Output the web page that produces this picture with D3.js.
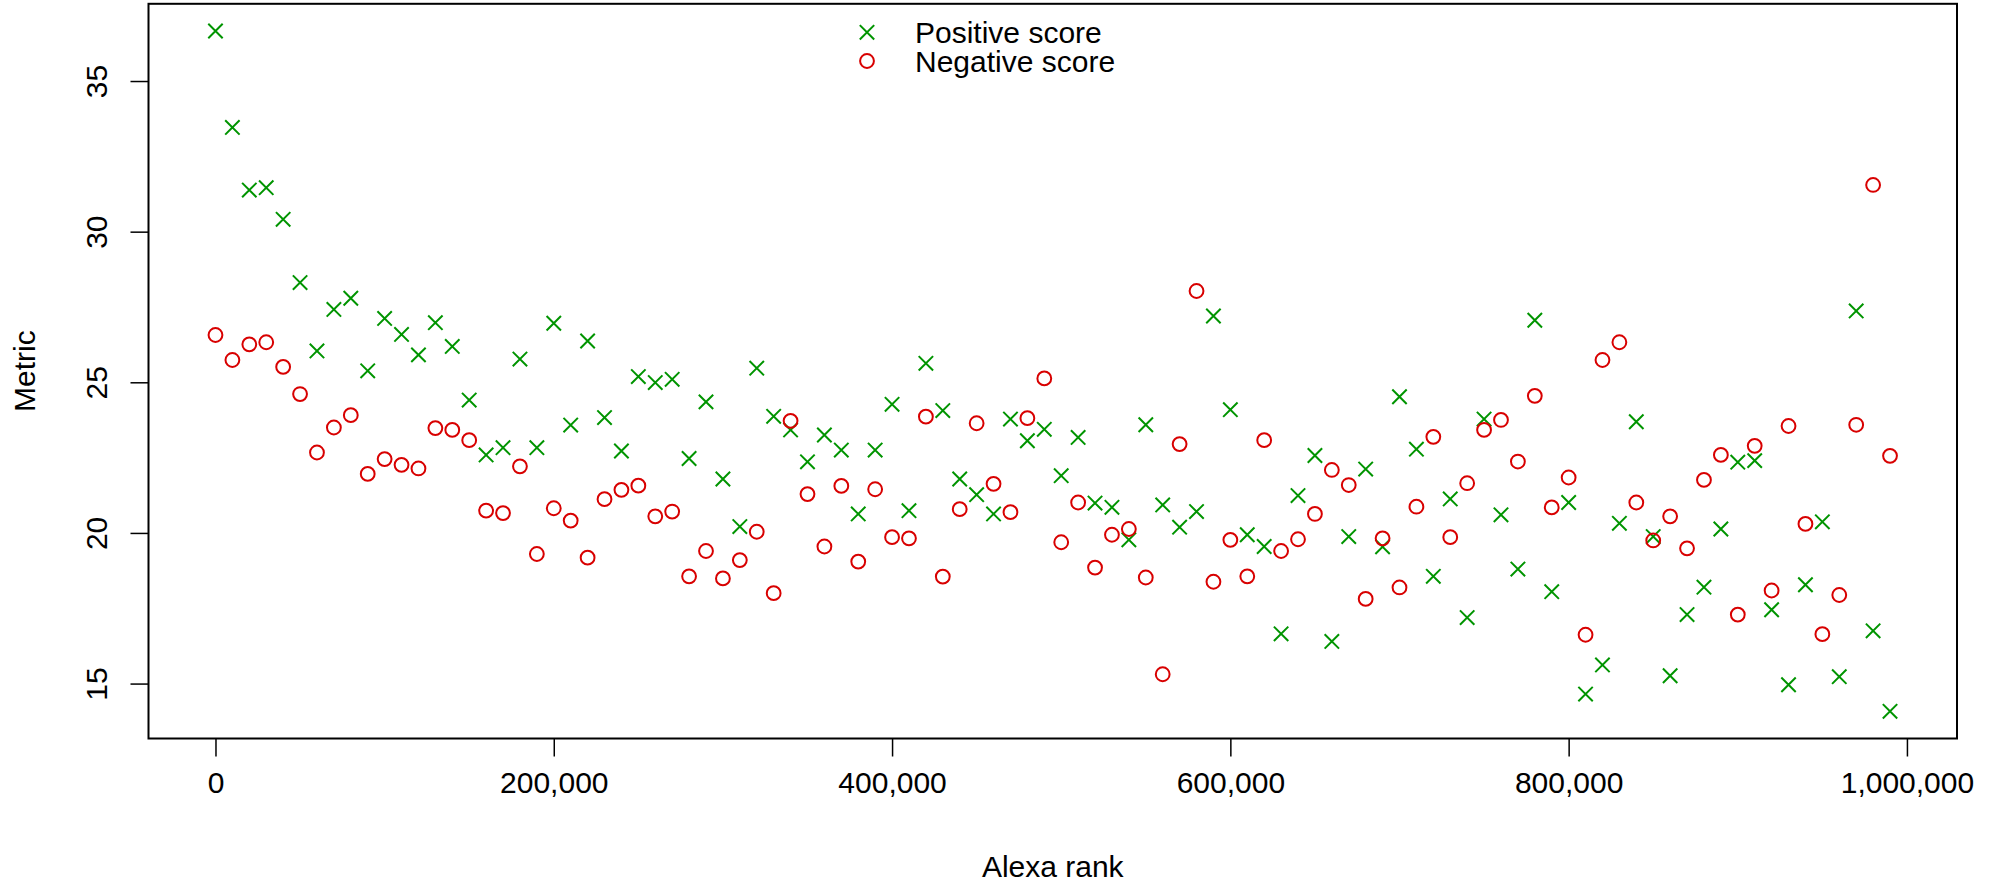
<!DOCTYPE html>
<html>
<head>
<meta charset="utf-8">
<script src="https://cdn.jsdelivr.net/npm/d3@7"></script>
<style>
  body { margin: 0; background: #fff; }
  svg text { font-family: "Liberation Sans", Arial, sans-serif; fill: #000; }
</style>
</head>
<body>
<svg id="chart"></svg>
<script>
(function(){

  const w = 2000,
    h = 885,
    margin = {top: 3.8, right: 43, bottom: 146.5, left: 148.5},
    green = "#009400",
    red = "#d80000";

  // DATA
  // rank grid: one sample every 10,000 positions
  const ranks = d3.range(0, 1000000, 10000);

  const positiveScore = [
    36.66, 33.46, 31.38, 31.46, 30.41, 28.31, 26.04, 27.42, 27.79, 25.38,
    27.12, 26.59, 25.91, 26.98, 26.19, 24.41, 22.59, 22.83, 25.77, 22.83,
    26.96, 23.58, 26.37, 23.83, 22.72, 25.19, 24.99, 25.10, 22.47, 24.35,
    21.79, 20.21, 25.47, 23.87, 23.42, 22.36, 23.25, 22.75, 20.63, 22.75,
    24.27, 20.74, 25.63, 24.06, 21.79, 21.27, 20.63, 23.78, 23.06, 23.44,
    21.90, 23.17, 20.99, 20.85, 19.77, 23.59, 20.93, 20.19, 20.71, 27.20,
    24.09, 19.94, 19.55, 16.65, 21.24, 22.57, 16.40, 19.88, 22.12, 19.54,
    24.52, 22.78, 18.56, 21.13, 17.19, 23.78, 20.60, 18.80, 27.06, 18.05,
    21.01, 14.65, 15.62, 20.32, 23.69, 19.88, 15.26, 17.29, 18.20, 20.13,
    22.35, 22.40, 17.45, 14.96, 18.28, 20.37, 15.23, 27.37, 16.75, 14.08
  ];

  const negativeScore = [
    26.57, 25.74, 26.26, 26.33, 25.51, 24.61, 22.67, 23.50, 23.91, 21.96,
    22.45, 22.26, 22.14, 23.48, 23.42, 23.08, 20.74, 20.66, 22.21, 19.30,
    20.82, 20.41, 19.18, 21.12, 21.43, 21.57, 20.55, 20.71, 18.56, 19.40,
    18.49, 19.10, 20.04, 18.00, 23.72, 21.29, 19.55, 21.56, 19.05, 21.45,
    19.86, 19.82, 23.86, 18.55, 20.79, 23.64, 21.63, 20.69, 23.81, 25.13,
    19.69, 21.01, 18.85, 19.94, 20.13, 18.52, 15.31, 22.95, 28.03, 18.38,
    19.77, 18.56, 23.08, 19.40, 19.79, 20.63, 22.09, 21.59, 17.81, 19.82,
    18.19, 20.87, 23.19, 19.86, 21.65, 23.42, 23.75, 22.37, 24.55, 20.85,
    21.84, 16.62, 25.74, 26.33, 21.01, 19.75, 20.55, 19.49, 21.76, 22.59,
    17.29, 22.89, 18.09, 23.55, 20.30, 16.64, 17.94, 23.59, 31.55, 22.56
  ];

  const xTicks = [0, 200000, 400000, 600000, 800000, 1000000];
  const yTicks = [15, 20, 25, 30, 35];
  const seriesNames = ["Positive score", "Negative score"];

  // SCALES (pad the data range by 4% like base R)
  const pad = (ext) => { const d = (ext[1] - ext[0]) * 0.04; return [ext[0] - d, ext[1] + d]; };

  const x = d3.scaleLinear()
    .domain(pad(d3.extent(ranks)))
    .range([margin.left, w - margin.right]);

  const y = d3.scaleLinear()
    .domain(pad(d3.extent(positiveScore.concat(negativeScore))))
    .range([h - margin.bottom, margin.top]);

  const svg = d3.select("#chart")
    .attr("width", w)
    .attr("height", h);

  // X AXIS
  const xAxis = svg.append("g")
    .attr("transform", "translate(0," + (h - margin.bottom) + ")")
    .call(d3.axisBottom(x).tickValues(xTicks).tickFormat(d3.format(",")).tickSize(18).tickSizeOuter(0));
  xAxis.select(".domain").remove();
  xAxis.selectAll("line").attr("stroke", "#000").attr("stroke-width", 1.5);
  xAxis.selectAll("text")
    .attr("y", 54.5)
    .attr("dy", 0)
    .style("font-size", "30px")
    .style("font-family", "'Liberation Sans', Arial, sans-serif");

  // Y AXIS
  const yAxis = svg.append("g")
    .attr("transform", "translate(" + margin.left + ",0)")
    .call(d3.axisLeft(y).tickValues(yTicks).tickSize(18).tickSizeOuter(0));
  yAxis.select(".domain").remove();
  yAxis.selectAll("line").attr("stroke", "#000").attr("stroke-width", 1.5);
  yAxis.selectAll("text")
    .attr("x", null)
    .attr("dy", 0)
    .attr("text-anchor", "middle")
    .attr("transform", "translate(-41.5,0) rotate(-90)")
    .style("font-size", "30px")
    .style("font-family", "'Liberation Sans', Arial, sans-serif");

  // BOX
  svg.append("rect")
    .attr("x", margin.left)
    .attr("y", margin.top)
    .attr("width", w - margin.left - margin.right)
    .attr("height", h - margin.top - margin.bottom)
    .attr("fill", "none")
    .attr("stroke", "#000")
    .attr("stroke-width", 2);

  // AXIS TITLES
  svg.append("text")
    .attr("x", (margin.left + w - margin.right) / 2)
    .attr("y", 877)
    .attr("text-anchor", "middle")
    .style("font-size", "30px")
    .text("Alexa rank");

  svg.append("text")
    .attr("transform", "translate(35," + ((margin.top + h - margin.bottom) / 2) + ") rotate(-90)")
    .attr("text-anchor", "middle")
    .style("font-size", "30px")
    .text("Metric");

  // MARKERS
  const cross = (g, s) => g.append("path")
    .attr("d", "M" + (-s) + "," + (-s) + "L" + s + "," + s + "M" + (-s) + "," + s + "L" + s + "," + (-s))
    .attr("stroke", green)
    .attr("stroke-width", 2)
    .attr("fill", "none");

  const ring = (g, r) => g.append("circle")
    .attr("r", r)
    .attr("stroke", red)
    .attr("stroke-width", 2)
    .attr("fill", "none");

  svg.append("g").selectAll("g")
    .data(ranks.map((r, i) => [r, positiveScore[i]]))
    .join("g")
    .attr("transform", d => "translate(" + x(d[0]) + "," + y(d[1]) + ")")
    .each(function(){ cross(d3.select(this), 7.2); });

  svg.append("g").selectAll("g")
    .data(ranks.map((r, i) => [r, negativeScore[i]]))
    .join("g")
    .attr("transform", d => "translate(" + x(d[0]) + "," + y(d[1]) + ")")
    .each(function(){ ring(d3.select(this), 6.9); });

  // LEGEND
  const legend = svg.append("g");
  const rowY = [32.3, 61];
  seriesNames.forEach((name, i) => {
    const sym = legend.append("g").attr("transform", "translate(867," + rowY[i] + ")");
    if (i === 0) cross(sym, 7.2); else ring(sym, 6.9);
    legend.append("text")
      .attr("x", 915)
      .attr("y", rowY[i] + 10.8)
      .style("font-size", "30px")
      .text(name);
  });

})()
</script>
</body>
</html>
